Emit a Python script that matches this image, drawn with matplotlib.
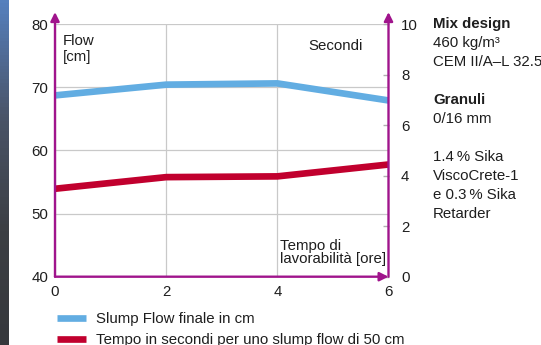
import matplotlib
matplotlib.use("Agg")
import matplotlib.pyplot as plt
import numpy as np
from matplotlib.lines import Line2D

plt.rcParams['font.family'] = ['Liberation Sans', 'DejaVu Sans']
plt.rcParams['font.size'] = 10.8

# data
hours = [0, 2, 4, 6]
flow_cm = [68.7, 70.4, 70.6, 67.9]          # Slump flow finale (cm), left axis
time_s = [3.48, 3.94, 3.97, 4.44]           # secondi per slump flow 50 cm, right axis
x_ticks = [0, 2, 4, 6]
left_ticks = [40, 50, 60, 70, 80]
right_ticks = [0, 2, 4, 6, 8, 10]
legend_labels = ['Slump Flow finale in cm', 'Tempo in secondi per uno slump flow di 50 cm']
side_lines = [('Mix design', True), ('460 kg/m\u00b3', False), ('CEM II/A\u2013L 32.5', False),
              (None, False),
              ('Granuli', True), ('0/16 mm', False),
              (None, False),
              ('1.4\u2009% Sika', False), ('ViscoCrete-1', False), ('e 0.3\u2009% Sika', False),
              ('Retarder', False)]

blue = '#62ade2'
red = '#c1002e'
purple = '#a0148c'
grid = '#c9c9c9'
txt = '#1e1e1e'

W, H = 541, 345
fig = plt.figure(figsize=(W / 100, H / 100), dpi=100)
fig.patch.set_facecolor('white')

# dark photo strip on the left edge
strip = fig.add_axes([0, 0, 9 / W, 1])
grad = np.linspace(0, 1, 100).reshape(-1, 1)
cm = matplotlib.colors.LinearSegmentedColormap.from_list('s', ['#5580bd', '#4a5468', '#3c3f44', '#36383c'])
strip.imshow(grad, aspect='auto', cmap=cm, extent=[0, 1, 0, 1], origin='upper')
strip.axis('off')

ax = fig.add_axes([55 / W, (H - 276.7) / H, (388.5 - 55) / W, (276.7 - 24) / H])
ax.set_xlim(0, 6)
ax.set_ylim(40, 80)
ax.set_xticks(x_ticks)
ax.set_yticks(left_ticks)
ax.grid(True, color=grid, lw=0.9)
ax.set_axisbelow(True)
ax.tick_params(axis='both', length=0, colors=txt, labelsize=10.8)
ax.tick_params(axis='y', pad=5)
ax.tick_params(axis='x', pad=6)
for s in ax.spines.values():
    s.set_visible(False)

ax.plot(hours, flow_cm, color=blue, lw=4.8, solid_capstyle='butt', clip_on=False, zorder=3)

ax2 = ax.twinx()
ax2.set_ylim(0, 10)
ax2.set_yticks(right_ticks)
ax2.tick_params(axis='y', direction='in', length=4, width=1, color='#b0b0b0',
                pad=9, colors=txt, labelsize=10.8)
ax2.tick_params(axis='y', color='#b0b0b0')
for s in ax2.spines.values():
    s.set_visible(False)
ax2.plot(hours, time_s, color=red, lw=4.8, solid_capstyle='butt', clip_on=False, zorder=3)

# purple axes with arrows
arrow = dict(arrowstyle='-|>', color=purple, lw=1.7, mutation_scale=13, shrinkA=0, shrinkB=0)
for a, b in [((0, 0), (0, 1.047)), ((1, 0), (1, 1.047)), ((0, 0), (1, 0))]:
    ax2.annotate('', xy=b, xytext=a, xycoords='axes fraction', textcoords='axes fraction',
                 arrowprops=arrow, annotation_clip=False, zorder=5)

# in-plot labels
ax.text(0.144, 78.4, 'Flow\n[cm]', ha='left', va='top', color=txt, linespacing=1.15)
ax.text(5.53, 75.9, 'Secondi', ha='right', va='baseline', color=txt)
ax.text(4.04, 42.2, 'Tempo di\nlavorabilit\u00e0 [ore]', ha='left', va='baseline',
        color=txt, linespacing=0.9)

# side notes
y = 28
for line, bold in side_lines:
    if line is None:
        y += 19
        continue
    fig.text(433 / W, 1 - y / H, line, ha='left', va='baseline', color=txt,
             fontweight='bold' if bold else 'normal')
    y += 19

# legend
handles = [Line2D([], [], color=blue, lw=4.8, solid_capstyle='butt'),
           Line2D([], [], color=red, lw=4.8, solid_capstyle='butt')]
fig.legend(handles, legend_labels, loc='upper left', bbox_to_anchor=(57 / W, 1 - 312 / H),
           frameon=False, borderpad=0, borderaxespad=0, handlelength=1.9,
           handletextpad=0.7, labelspacing=0.45, fontsize=10.8, labelcolor=txt)

fig.savefig('out.png', dpi=100)
